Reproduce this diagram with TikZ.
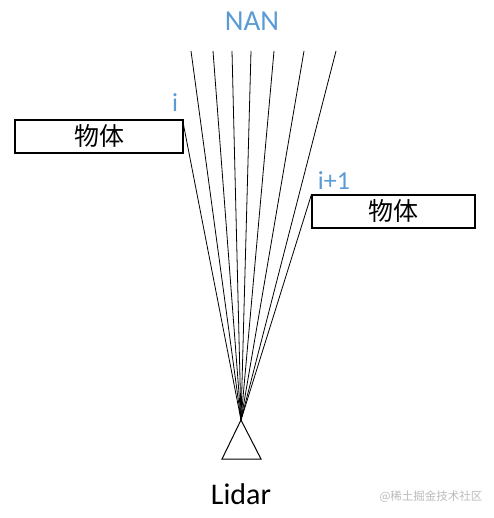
\documentclass[tikz,border=0pt]{standalone}
\usepackage{fontspec}
\setmainfont{Carlito}
\newfontfamily\cjk{Noto Sans CJK SC}
\definecolor{nanblue}{HTML}{5B9BD5}
\definecolor{markgray}{HTML}{BBBBBB}
\tikzset{
  obj/.style={draw, line width=1.1pt, minimum height=33pt, inner sep=0pt,
    font=\cjk\fontsize{25}{25}\selectfont},
  lbl/.style={text=nanblue, inner sep=0pt},
  beam/.style={line width=0.8pt},
}
\begin{document}
\begin{tikzpicture}[x=1pt,y=-1pt]
      \useasboundingbox (0,0) rectangle (493,518);
      \draw
        (99,136.5) node[obj, minimum width=168pt] (box1){物体}
        (393.5,211.5) node[obj, minimum width=163pt] (box2){物体}
        (252,21) node[lbl, font=\fontsize{29}{29}\selectfont] (nan){NAN}
        (175,103) node[lbl, font=\fontsize{26}{26}\selectfont] (i){i}
        (334,181) node[lbl, font=\fontsize{26}{26}\selectfont] (ip1){i+1}
        (241,494) node[inner sep=0pt, font=\fontsize{30}{30}\selectfont] (lidar){Lidar}
        (431,497) node[inner sep=0pt, text=markgray, font=\cjk\fontsize{11.5}{11.5}\selectfont] (mark){@稀土掘金技术社区};
      % sensor
      \coordinate (apex) at (241,420);
      \coordinate (bl) at (222,459);
      \coordinate (br) at (261,459);
      \draw[line width=1pt] (apex) -- (bl) -- (br) -- cycle;
      % beam ends
      \coordinate (t0) at (191,51);
      \coordinate (t1) at (213,51);
      \coordinate (t2) at (232,51);
      \coordinate (t3) at (251,51);
      \coordinate (t4) at (274,51);
      \coordinate (t5) at (304,51);
      \coordinate (t6) at (336,51);
      \coordinate (h1) at (box1.east |- 0,125);
      \coordinate (h2) at (box2.north west);
      \begin{scope}[beam]
        \draw (apex) to (h1);
        \draw (apex) to (t0);
        \draw (apex) to (t1);
        \draw (apex) to (t2);
        \draw (apex) to (t3);
        \draw (apex) to (t4);
        \draw (apex) to (t5);
        \draw (apex) to (t6);
        \draw (apex) to (h2);
      \end{scope}
    \end{tikzpicture}
\end{document}
